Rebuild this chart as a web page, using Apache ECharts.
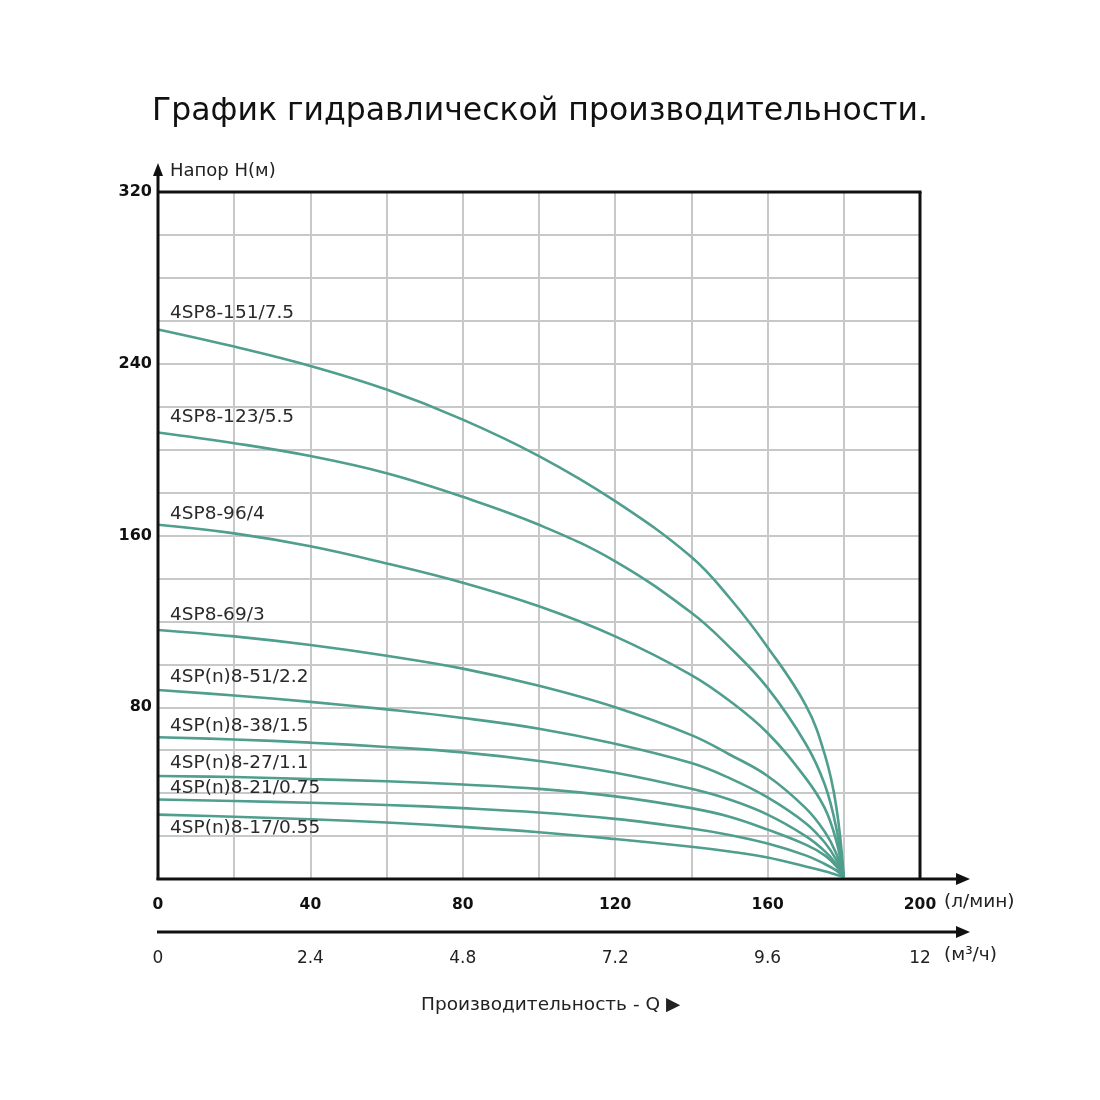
<!DOCTYPE html>
<html>
<head>
<meta charset="utf-8">
<script src="https://cdn.jsdelivr.net/npm/echarts@6/dist/echarts.min.js"></script>
<style>
html,body{margin:0;padding:0;background:#fff;}
#main{width:1100px;height:1100px;}
</style>
</head>
<body>
<div id="main"></div>
<script>
// ---- data ----
const seriesNames = [
  '4SP8-151/7.5', '4SP8-123/5.5', '4SP8-96/4', '4SP8-69/3',
  '4SP(n)8-51/2.2', '4SP(n)8-38/1.5', '4SP(n)8-27/1.1',
  '4SP(n)8-21/0.75', '4SP(n)8-17/0.55'
];
const flowQ = [0, 20, 40, 60, 80, 100, 120, 140, 150, 160, 170, 175, 178, 180];
const head151 = [256, 248, 239, 228, 214, 197, 176, 150, 131, 108, 81, 58, 34, 1];
const head123 = [208, 203, 197, 189, 178, 165, 148, 124, 108, 89, 63, 44, 24, 1];
const head96  = [165, 161, 155, 147, 138, 127, 113, 95, 83, 68, 47, 33, 18, 1];
const head69  = [116, 113, 109, 104, 98, 90, 80, 67, 58, 48, 33, 22, 12, 1];
const head51  = [88, 85.5, 82.5, 79, 75, 70, 63, 54, 47, 38, 26, 17, 9, 1];
const head38  = [66, 65, 63.5, 61.5, 59, 55, 49.5, 42, 37, 30, 20, 13, 7, 1];
const head27  = [48, 47.5, 46.5, 45.5, 44, 42, 38.5, 33, 29, 23, 16, 11, 6, 1];
const head21  = [37, 36.3, 35.5, 34.5, 33, 31, 28, 23.5, 20.5, 16.5, 11, 7, 4, 1];
const head17  = [30, 29, 27.8, 26.3, 24.3, 21.8, 18.6, 15, 12.8, 10, 5.8, 3.6, 2, 1];
const headSets = [head151, head123, head96, head69, head51, head38, head27, head21, head17];
const xTicksLmin = [0, 40, 80, 120, 160, 200];
const xTicksM3h = [0, 2.4, 4.8, 7.2, 9.6, 12];
const yTicks = [80, 160, 240, 320];

// ---- styles / layout ----
const G = {left: 158, top: 192, width: 762, height: 687};
const labelDy = [-16, -15, -11, -15, -13, -11, -13, -11, 14];
const lineColor = '#4f9e8e';
const fontW = 'DejaVu Sans, Verdana, sans-serif';

const chart = echarts.init(document.getElementById('main'));

const series = headSets.map((hs, i) => ({
  type: 'line',
  name: seriesNames[i],
  xAxisIndex: 0,
  yAxisIndex: 0,
  smooth: 0.4,
  symbol: 'circle',
  symbolSize: 0,
  showSymbol: true,
  lineStyle: {color: lineColor, width: 2.6},
  itemStyle: {color: lineColor},
  z: 5,
  data: flowQ.map((q, k) => {
    const d = {value: [q, hs[k]]};
    if (k === 0) {
      d.label = {
        show: true,
        formatter: seriesNames[i],
        position: 'right',
        distance: 0,
        offset: [12, labelDy[i]],
        color: '#2a2a2a',
        fontSize: 18.5,
        fontFamily: fontW
      };
    }
    return d;
  })
}));

series.push({type: 'line', xAxisIndex: 1, yAxisIndex: 0, data: [], silent: true});

const bottom = G.top + G.height;
const right = G.left + G.width;
const axis2Y = bottom + 53;

chart.setOption({
  animation: false,
  backgroundColor: '#fff',
  title: {
    text: 'График гидравлической производительности.',
    left: 147, top: 91,
    textStyle: {fontSize: 31.5, fontWeight: 'normal', color: '#111', fontFamily: fontW}
  },
  grid: {left: G.left, top: G.top, width: G.width, height: G.height, show: false},
  xAxis: [{
    type: 'value', min: 0, max: 200, interval: 20,
    axisLine: {show: false}, axisTick: {show: false},
    splitLine: {show: true, lineStyle: {color: '#c8c8c8', width: 2}},
    axisLabel: {
      margin: 18, fontSize: 15.5, fontWeight: 'bold', color: '#111', fontFamily: fontW,
      formatter: v => xTicksLmin.indexOf(v) >= 0 ? String(v) : ''
    }
  }, {
    type: 'value', min: 0, max: 12, interval: 2.4, position: 'bottom', offset: 53,
    axisLine: {show: false}, axisTick: {show: false}, splitLine: {show: false},
    axisLabel: {
      margin: 18, fontSize: 17, color: '#222', fontFamily: fontW,
      formatter: v => {
        const r = Math.round(v * 10) / 10;
        return xTicksM3h.indexOf(r) >= 0 ? String(r) : '';
      }
    }
  }],
  yAxis: [{
    type: 'value', min: 0, max: 320, interval: 20,
    axisLine: {show: false}, axisTick: {show: false},
    splitLine: {show: true, lineStyle: {color: '#c8c8c8', width: 2}},
    axisLabel: {
      margin: 6, fontSize: 16, fontWeight: 'bold', color: '#111', fontFamily: fontW,
      formatter: v => yTicks.indexOf(v) >= 0 ? String(v) : ''
    }
  }],
  graphic: [
    {type: 'line', shape: {x1: G.left, y1: G.top, x2: right + 1.5, y2: G.top}, style: {stroke: '#111', lineWidth: 3}, z: 10},
    {type: 'line', shape: {x1: right, y1: G.top, x2: right, y2: bottom}, style: {stroke: '#111', lineWidth: 3}, z: 10},
    {type: 'line', shape: {x1: G.left, y1: bottom + 1, x2: G.left, y2: 172}, style: {stroke: '#111', lineWidth: 3}, z: 10},
    {type: 'polygon', shape: {points: [[G.left - 5, 176], [G.left, 163], [G.left + 5, 176]]}, style: {fill: '#111'}, z: 10},
    {type: 'line', shape: {x1: G.left - 1.5, y1: bottom, x2: 960, y2: bottom}, style: {stroke: '#111', lineWidth: 3}, z: 10},
    {type: 'polygon', shape: {points: [[956, bottom - 6], [970, bottom], [956, bottom + 6]]}, style: {fill: '#111'}, z: 10},
    {type: 'line', shape: {x1: G.left - 1, y1: axis2Y, x2: 960, y2: axis2Y}, style: {stroke: '#111', lineWidth: 3}, z: 10},
    {type: 'polygon', shape: {points: [[956, axis2Y - 6], [970, axis2Y], [956, axis2Y + 6]]}, style: {fill: '#111'}, z: 10},
    {type: 'text', left: 170, top: 162, style: {text: 'Напор Н(м)', fontSize: 18, fill: '#222', fontFamily: fontW}, z: 10},
    {type: 'text', left: 944, top: 893, style: {text: '(л/мин)', fontSize: 18.5, fill: '#222', fontFamily: fontW}, z: 10},
    {type: 'text', left: 944, top: 946, style: {text: '(м³/ч)', fontSize: 18.5, fill: '#222', fontFamily: fontW}, z: 10},
    {type: 'text', left: 421, top: 996, style: {text: 'Производительность - Q ▶', fontSize: 18.5, fill: '#222', fontFamily: fontW}, z: 10}
  ],
  series: series
});
</script>
</body>
</html>
